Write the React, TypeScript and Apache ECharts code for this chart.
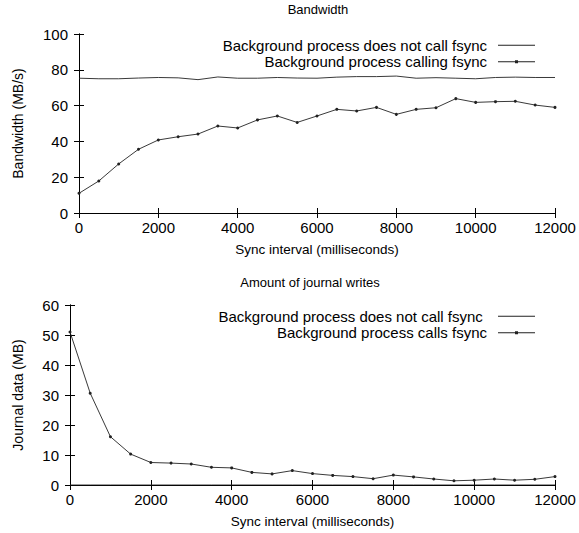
import React, { useEffect, useRef } from "react";
import * as echarts from "echarts";

const syncIntervals = [0, 500, 1000, 1500, 2000, 2500, 3000, 3500, 4000, 4500, 5000, 5500, 6000, 6500, 7000, 7500, 8000, 8500, 9000, 9500, 10000, 10500, 11000, 11500, 12000];

const bwNoFsync = [75.3, 75.0, 75.0, 75.4, 75.7, 75.5, 74.5, 76.0, 75.3, 75.3, 75.7, 75.4, 75.3, 75.9, 76.2, 76.2, 76.5, 75.3, 75.6, 75.3, 75.0, 75.7, 75.9, 75.7, 75.7];
const bwFsync = [11.0, 17.9, 27.4, 35.6, 40.8, 42.6, 44.1, 48.6, 47.5, 52.0, 54.2, 50.6, 54.2, 57.9, 57.0, 59.0, 55.1, 57.9, 58.8, 63.9, 61.8, 62.2, 62.4, 60.3, 59.0];

const jNoFsync = [0, 0, 0, 0, 0, 0, 0, 0, 0, 0, 0, 0, 0, 0, 0, 0, 0, 0, 0, 0, 0, 0, 0, 0, 0];
const jFsync = [51.0, 30.6, 16.1, 10.3, 7.5, 7.3, 7.0, 5.9, 5.7, 4.2, 3.7, 4.8, 3.8, 3.2, 2.8, 2.1, 3.3, 2.7, 2.0, 1.4, 1.6, 2.0, 1.6, 1.9, 2.8];

const topTitle = "Bandwidth";
const bottomTitle = "Amount of journal writes";
const xName = "Sync interval (milliseconds)";
const topYName = "Bandwidth (MB/s)";
const bottomYName = "Journal data (MB)";
const topLegend = ["Background process does not call fsync", "Background process calling fsync"];
const bottomLegend = ["Background process does not call fsync ", "Background process calls fsync"];

const FONT = "Liberation Sans, Arial, Helvetica, sans-serif";
const LINE = "#222";
const ICON_PLAIN = "path://M0,3H37V4H0Z";
const ICON_MARK = "path://M0,3H37V4H0Z M17,2H20V5H17Z";

function pairs(xs: number[], ys: number[]) {
  return xs.map((x, i) => [x, ys[i]]);
}

export default function App() {
  const ref = useRef<HTMLDivElement>(null);
  useEffect(() => {
    if (!ref.current) return;
    const chart = echarts.init(ref.current, null, { renderer: "svg" });
    const grids = [
      { left: 79, right: 24, top: 34, height: 179 },
      { left: 70, right: 24, top: 305, height: 180 },
    ];
    const axisLine = { show: true, lineStyle: { color: "#000", width: 1 } };
    const tick = { show: true, inside: true, length: 5, lineStyle: { color: "#000" } };
    const labelStyle = { color: "#000", fontSize: 15, fontFamily: FONT };
    const xAxes: any[] = [];
    const yAxes: any[] = [];
    [0, 1].forEach((g) => {
      xAxes.push({
        type: "value", gridIndex: g, min: 0, max: 12000, interval: 2000, position: "bottom",
        axisLine, axisTick: tick, splitLine: { show: false },
        axisLabel: { ...labelStyle, margin: 7, formatter: (v: number) => String(v) },
        name: xName, nameLocation: "middle", nameGap: 29,
        nameTextStyle: { color: "#000", fontSize: 13.5, fontFamily: FONT },
      });
      xAxes.push({
        type: "value", gridIndex: g, min: 0, max: 12000, interval: 2000, position: "top",
        axisLine, axisTick: tick, splitLine: { show: false }, axisLabel: { show: false },
      });
      const ymax = g === 0 ? 100 : 60;
      const yint = g === 0 ? 20 : 10;
      yAxes.push({
        type: "value", gridIndex: g, min: 0, max: ymax, interval: yint, position: "left",
        axisLine, axisTick: tick, splitLine: { show: false },
        axisLabel: { ...labelStyle, margin: 11 },
        name: g === 0 ? topYName : bottomYName, nameLocation: "middle", nameGap: g === 0 ? 54 : 45,
        nameTextStyle: { color: "#000", fontSize: 14, fontFamily: FONT },
      });
      yAxes.push({
        type: "value", gridIndex: g, min: 0, max: ymax, interval: yint, position: "right",
        axisLine, axisTick: tick, splitLine: { show: false }, axisLabel: { show: false },
      });
    });
    const mk = (name: string, xi: number, yi: number, data: number[], marker: boolean) => ({
      type: "line", name, xAxisIndex: xi, yAxisIndex: yi,
      data: pairs(syncIntervals, data),
      showSymbol: marker, symbol: marker ? "circle" : "none", symbolSize: 3,
      itemStyle: { color: LINE },
      lineStyle: { color: LINE, width: 0.9 },
    });
    const legendCommon = {
      orient: "vertical", align: "right", itemWidth: 37, itemHeight: 7, itemGap: 0,
      textStyle: { color: "#000", fontSize: 15, fontFamily: FONT, padding: [0, 6, 0, 0], lineHeight: 16.5 },
      selectedMode: false,
      padding: 0,
    };
    chart.setOption({
      animation: false,
      backgroundColor: "#fff",
      title: [
        { text: topTitle, left: 318, top: 3, padding: 0, textAlign: "center", textStyle: { color: "#000", fontSize: 13, fontWeight: "normal", fontFamily: FONT } },
        { text: bottomTitle, left: 310, top: 276, padding: 0, textAlign: "center", textStyle: { color: "#000", fontSize: 13, fontWeight: "normal", fontFamily: FONT } },
      ],
      grid: grids,
      xAxis: xAxes,
      yAxis: yAxes,
      legend: [
        { ...legendCommon, data: [{ name: topLegend[0], icon: ICON_PLAIN }, { name: topLegend[1], icon: ICON_MARK }], right: 44, top: 37 },
        { ...legendCommon, data: [{ name: bottomLegend[0], icon: ICON_PLAIN }, { name: bottomLegend[1], icon: ICON_MARK }], right: 44, top: 308 },
      ],
      series: [
        mk(topLegend[0], 0, 0, bwNoFsync, false),
        mk(topLegend[1], 0, 0, bwFsync, true),
        mk(bottomLegend[0], 2, 2, jNoFsync, false),
        mk(bottomLegend[1], 2, 2, jFsync, true),
      ],
    });
    return () => chart.dispose();
  }, []);
  return <div ref={ref} style={{ position: "fixed", left: 0, top: 0, width: 579, height: 533 }} />;
}
